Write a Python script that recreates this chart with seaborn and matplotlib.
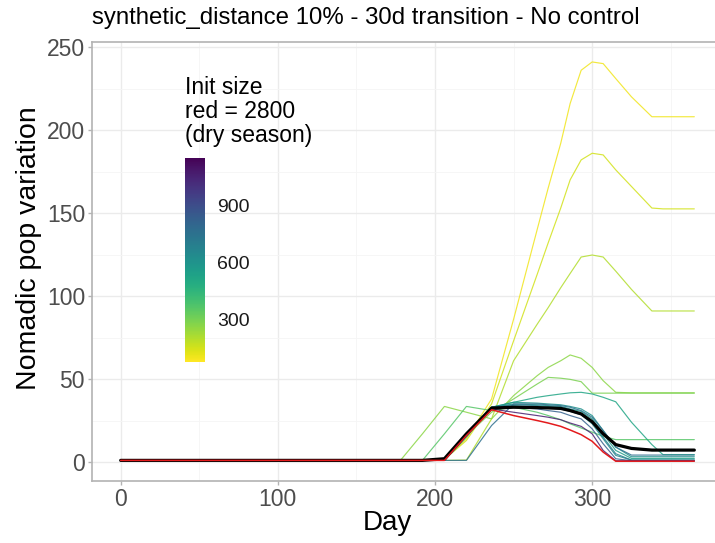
import numpy as np
import pandas as pd
import matplotlib
matplotlib.use('Agg')
import matplotlib.pyplot as plt
import seaborn as sns
from matplotlib.cm import ScalarMappable
from matplotlib.colors import Normalize

days = [0, 178, 192, 206, 220, 236, 250, 265, 272, 280, 286, 293, 300, 307, 315, 325, 338, 345, 365]

# one series per init size (coloured by viridis)
pop_100 = [1, 1, 1, 1.5, 14, 38, 86, 140, 165, 192, 216, 236, 241, 240, 231, 220, 208, 208, 208]
pop_150 = [1, 1, 1, 1.5, 13, 35, 73, 113, 132, 153, 170, 182, 186, 185, 176, 166, 153, 152.5, 152.5]
pop_200 = [1, 1, 1, 1, 1.2, 26, 61, 83, 93, 105, 113.6, 123.5, 124.7, 123.5, 115, 104, 91, 91, 91]
pop_260 = [1, 1, 17, 33.5, 30, 26, 40, 52, 57, 61, 64.5, 62.5, 57, 49, 42, 41.7, 41.7, 41.7, 41.7]
pop_290 = [1, 1, 1, 1.5, 16, 30, 38, 47, 51, 50.5, 49.8, 48.4, 41.5, 41.5, 41.5, 41.5, 41.5, 41.5, 41.5]
pop_360 = [1, 1, 1, 17, 33.5, 31, 33, 30, 28, 25.5, 23, 20.5, 18, 15.5, 13.5, 13.5, 13.5, 13.5, 13.5]
pop_520 = [1, 1, 1, 1, 15, 33, 36, 39, 40, 41, 41.7, 42, 41, 39, 36.3, 24, 10.5, 4.5, 4.5]
pop_560 = [1, 1, 1, 1, 16, 33, 35, 34.5, 34, 33.5, 32, 30.5, 26, 17, 7, 2.2, 2.2, 2.2, 2.2]
pop_600 = [1, 1, 1, 1, 16, 33, 36, 35.5, 35, 34.5, 33.5, 32, 28, 19, 9, 3.2, 3.2, 3.2, 3.2]
pop_640 = [1, 1, 1, 1, 16, 33, 34, 33, 32.5, 32, 30.5, 28.5, 23, 14, 4, 1.2, 1.2, 1.2, 1.2]
pop_690 = [1, 1, 1, 1, 16, 33, 34.5, 34, 33.5, 33, 31.5, 29, 24, 15, 5, 1.2, 1.2, 1.2, 1.2]
pop_760 = [1, 1, 1, 1, 1, 22, 35, 35, 34.5, 34, 33, 31, 27, 19, 9, 4.2, 4.2, 4.2, 4.2]
pop_820 = [1, 1, 1, 1, 16, 32.5, 33, 32, 31, 30, 28, 26, 20, 11, 2, 0.8, 0.8, 0.8, 0.8]
pop_1060 = [1, 1, 1, 1, 16, 32, 30, 28, 27, 25.5, 23.5, 21.5, 17, 7, 0.8, 0.8, 0.8, 0.8, 0.8]

# red = 2800 (dry season), black = mean
pop_2800 = [1, 1, 1, 1, 16, 31.5, 28, 25, 23.5, 21.5, 19.3, 16.5, 12.5, 6, 0.5, 0.5, 0.5, 0.5, 0.5]
pop_mean = [1, 1, 1, 2, 17, 32.5, 33, 32.8, 32.6, 32.3, 31, 29, 24.3, 17, 10.5, 8.2, 7.2, 7.2, 7.2]

init_sizes = [100, 150, 200, 260, 290, 360, 520, 560, 600, 640, 690, 760, 820, 1060]
series = [pop_100, pop_150, pop_200, pop_260, pop_290, pop_360, pop_520,
          pop_560, pop_600, pop_640, pop_690, pop_760, pop_820, pop_1060]
cbar_ticks = [300, 600, 900]
cbar_lims = (75, 1150)

rows = []
for size, vals in zip(init_sizes, series):
    for d, v in zip(days, vals):
        rows.append({'day': d, 'pop': v, 'init': size})
df = pd.DataFrame(rows)

sns.set_theme(style='white')
plt.rcParams['font.family'] = ['Liberation Sans', 'DejaVu Sans']

W, H = 715, 543
fig = plt.figure(figsize=(W / 100, H / 100), dpi=100)
ax = fig.add_axes([92 / W, (H - 481.3) / H, 631 / W, 439.6 / H])

sns.lineplot(data=df, x='day', y='pop', hue='init', units='init', estimator=None,
             palette='viridis_r', hue_norm=cbar_lims, lw=0.85, alpha=0.85,
             legend=False, sort=False, ax=ax)
sns.lineplot(x=days, y=pop_mean, color='black', lw=2.3, ax=ax)
sns.lineplot(x=days, y=pop_2800, color='#e31a1c', lw=1.1, ax=ax)

ax.set_xlim(-18.25, 383.25)
ax.set_ylim(-11.6, 253.2)
ax.set_xticks([0, 100, 200, 300])
ax.set_xticks([50, 150, 250, 350], minor=True)
ax.set_yticks([0, 50, 100, 150, 200, 250])
ax.set_yticks([25, 75, 125, 175, 225], minor=True)
ax.grid(which='major', color='#ebebeb', lw=1.0)
ax.grid(which='minor', color='#f5f5f5', lw=0.6)
ax.set_axisbelow(True)
for sp in ax.spines.values():
    sp.set_color('#b3b3b3')
    sp.set_linewidth(1.2)
ax.tick_params(which='major', bottom=True, left=True, length=3, width=1,
               color='#b3b3b3', labelcolor='#4d4d4d', labelsize=16.5, pad=2)
ax.tick_params(which='minor', bottom=False, left=False)

ax.set_xlabel('Day', fontsize=20, color='black')
ax.set_ylabel('Nomadic pop variation', fontsize=20.5, color='black')
ax.xaxis.set_label_coords((387 - 92) / 631, (481.3 - 510) / 439.6)
ax.yaxis.set_label_coords((42 - 92) / 631, (481.3 - 248.5) / 439.6)

fig.text(92 / W, 1 - 18 / H, 'synthetic_distance 10% - 30d transition - No control',
         va='center', ha='left', fontsize=17.3, color='black')

# colourbar legend inside the panel
cax = fig.add_axes([185 / W, (H - 361.7) / H, 20 / W, 204 / H])
sm = ScalarMappable(norm=Normalize(*cbar_lims), cmap='viridis_r')
cb = fig.colorbar(sm, cax=cax, ticks=cbar_ticks)
cb.outline.set_visible(False)
cax.tick_params(axis='y', left=True, right=True, direction='in', length=3, width=0.8,
                color='white', labelcolor='#1a1a1a', labelsize=14, pad=9)
fig.text(185 / W, 1 - 76 / H, 'Init size\nred = 2800\n(dry season)',
         va='top', ha='left', fontsize=16.5, linespacing=1.05, color='black')

fig.savefig('out.png', dpi=100)
